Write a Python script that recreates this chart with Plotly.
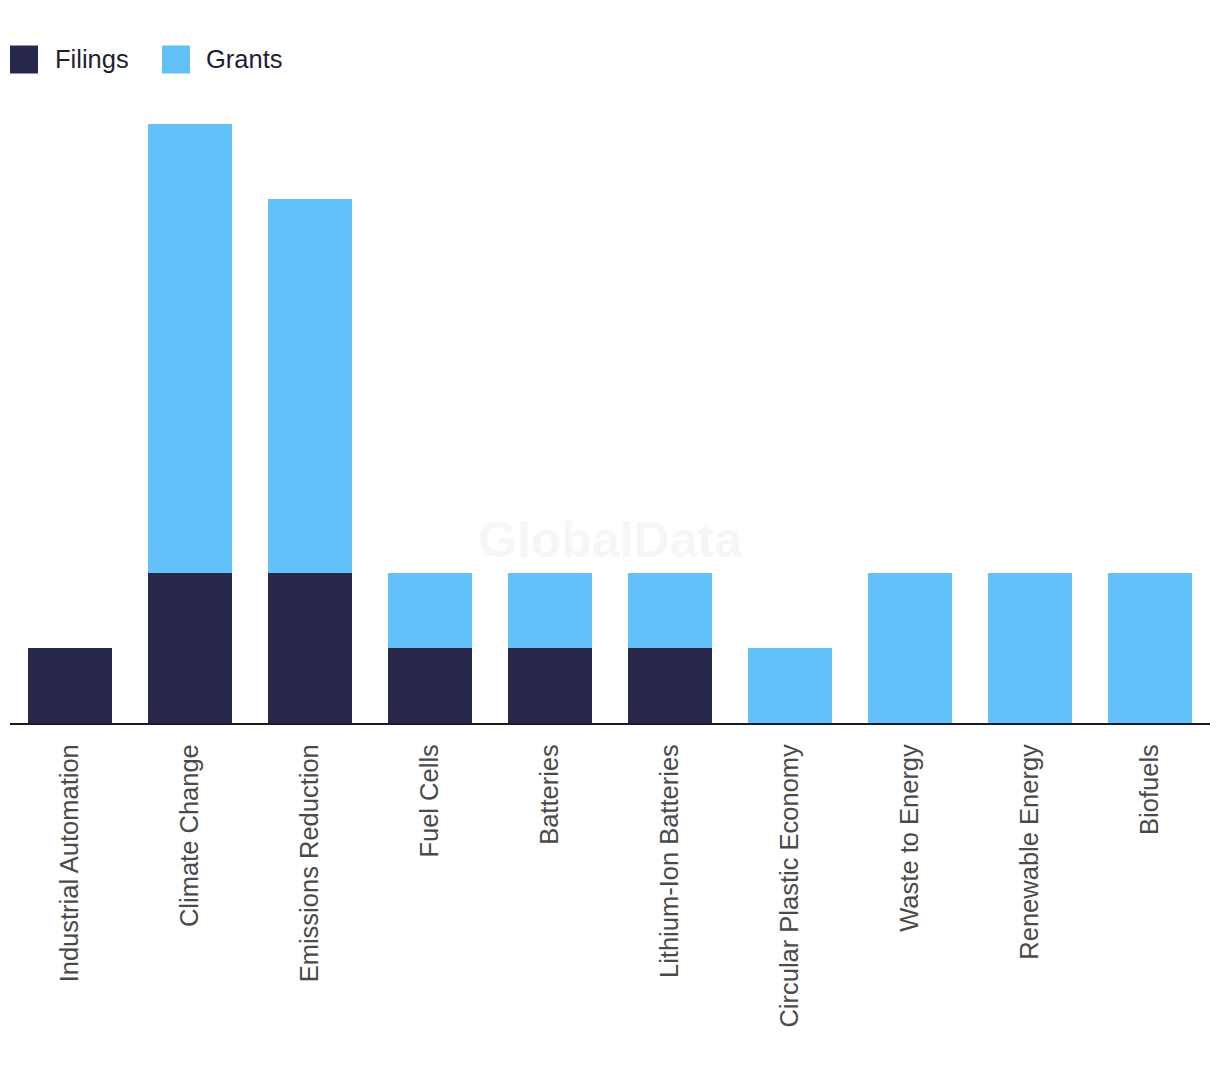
import plotly.graph_objects as go

categories = ["Industrial Automation", "Climate Change", "Emissions Reduction", "Fuel Cells",
              "Batteries", "Lithium-Ion Batteries", "Circular Plastic Economy",
              "Waste to Energy", "Renewable Energy", "Biofuels"]
filings = [1, 2, 2, 1, 1, 1, 0, 0, 0, 0]
grants = [0, 6, 5, 1, 1, 1, 1, 2, 2, 2]

FILINGS_COLOR = "#27284a"
GRANTS_COLOR = "#62c1f9"

OFF = 8  # page body offset
W, H = 1220, 1078
ML = 10 - OFF
MT = 124 - OFF
PW = 1200
PH = 723 - 124
MR = W - ML - PW
MB = H - MT - PH

fig = go.Figure()
fig.add_trace(go.Bar(x=categories, y=filings, name="Filings",
                     marker=dict(color=FILINGS_COLOR, line=dict(width=0)), showlegend=False))
fig.add_trace(go.Bar(x=categories, y=grants, name="Grants",
                     marker=dict(color=GRANTS_COLOR, line=dict(width=0)), showlegend=False))

def px_x(p):
    return (p - OFF - ML) / PW

def px_y(p):
    return (MT + PH - (p - OFF)) / PH

# manual legend (swatches larger than plotly's default)
legend_items = [("Filings", FILINGS_COLOR, 10, 55), ("Grants", GRANTS_COLOR, 162, 206)]
shapes = []
annotations = []
for name, color, sx, tx in legend_items:
    shapes.append(dict(type="rect", xref="paper", yref="paper",
                       x0=px_x(sx), x1=px_x(sx + 28), y0=px_y(73.5), y1=px_y(45.5),
                       fillcolor=color, line=dict(width=0)))
    annotations.append(dict(text=name, xref="paper", yref="paper", x=px_x(tx - 2), y=px_y(58.5),
                            xanchor="left", yanchor="middle", showarrow=False,
                            font=dict(family="Liberation Sans, Arial", size=25.5, color="#1e1f33")))

annotations.append(dict(text="<b>GlobalData</b>", xref="paper", yref="paper",
                        x=px_x(610), y=px_y(540), xanchor="center", yanchor="middle",
                        showarrow=False,
                        font=dict(family="Liberation Sans, Arial", size=50, color="#f6f6f6")))

fig.update_layout(
    width=W, height=H,
    margin=dict(l=ML, r=MR, t=MT, b=MB),
    barmode="stack", bargap=0.3,
    plot_bgcolor="white", paper_bgcolor="white",
    shapes=shapes, annotations=annotations,
    xaxis=dict(tickangle=-90, showgrid=False, showline=True, linecolor="#1a1a2e", linewidth=2,
               ticks="", ticklabelstandoff=9,
               tickfont=dict(family="Liberation Sans, Arial", size=25.5, color="#4a4a4a")),
    yaxis=dict(range=[0, 8], visible=False, showgrid=False, zeroline=False),
)

fig.write_html("out.html")
